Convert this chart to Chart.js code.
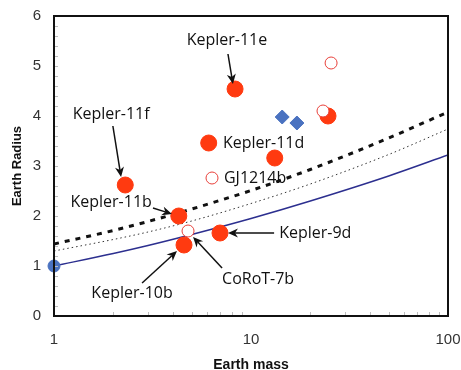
<!DOCTYPE html>
<html>
<head>
<meta charset="utf-8">
<script src="https://cdn.jsdelivr.net/npm/chart.js@4.4.1/dist/chart.umd.min.js"></script>
<style>
  html, body { margin: 0; padding: 0; background: #fff; }
  #wrap { width: 461px; height: 370px; position: relative; }
</style>
</head>
<body>
<div id="wrap"><canvas id="chart"></canvas></div>
<script>
// Planeten: massa (aarde = 1) en straal (aarde = 1)
const filledMass   = [2.3, 8.3, 6.1, 13.2, 4.3, 4.57, 6.96, 24.6];
const filledRadius = [2.62, 4.54, 3.46, 3.16, 2.0, 1.42, 1.66, 4.0];

const openMass   = [4.79, 6.34, 23.2, 25.5];
const openRadius = [1.70, 2.76, 4.1, 5.06];

const diamondMass   = [14.4, 17.1];
const diamondRadius = [3.98, 3.86];

const earthMass = [1];
const earthRadius = [1];

// modelcurves
const curveMass   = [1, 2, 3, 5, 10, 20, 50, 100];
const solidRadius = [1.0, 1.25, 1.41, 1.63, 1.95, 2.30, 2.80, 3.22];
const dashRadius  = [1.44, 1.71, 1.89, 2.14, 2.51, 2.93, 3.56, 4.08];
const dotRadius   = [1.30, 1.53, 1.68, 1.90, 2.25, 2.64, 3.23, 3.74];

const xTicks = [1, 10, 100];
const yTicks = [0, 1, 2, 3, 4, 5, 6];
const xMinor = [2, 3, 4, 5, 6, 7, 8, 9, 20, 30, 40, 50, 60, 70, 80, 90];

// labels met pijlen (in data-coordinaten)
const labels = [
    { text: 'Kepler-11e', x: 7.55, y: 5.52, align: 'center', arrow: [7.64, 5.24, 8.1, 4.64] },
    { text: 'Kepler-11f', x: 1.95, y: 4.04, align: 'center', arrow: [1.99, 3.80, 2.19, 2.78] },
    { text: 'Kepler-11d', x: 7.2, y: 3.46, align: 'left' },
    { text: 'GJ1214b', x: 7.29, y: 2.76, align: 'left' },
    { text: 'Kepler-11b', x: 1.95, y: 2.28, align: 'center', arrow: [3.18, 2.16, 3.97, 2.04] },
    { text: 'Kepler-9d', x: 13.9, y: 1.66, align: 'left', arrow: [13.1, 1.66, 7.64, 1.66] },
    { text: 'CoRoT-7b', x: 7.13, y: 0.74, align: 'left', arrow: [7.13, 0.96, 5.08, 1.58] },
    { text: 'Kepler-10b', x: 2.49, y: 0.46, align: 'center', arrow: [2.80, 0.66, 4.21, 1.30] }
];

const pts = (xs, ys) => xs.map((x, i) => ({ x: x, y: ys[i] }));

function drawArrow(ctx, x1, y1, x2, y2) {
    const ang = Math.atan2(y2 - y1, x2 - x1);
    const len = 10, w = 4.5;
    const c = Math.cos(ang), s = Math.sin(ang);
    ctx.beginPath();
    ctx.moveTo(x1, y1);
    ctx.lineTo(x2 - c * len * 0.7, y2 - s * len * 0.7);
    ctx.stroke();
    ctx.beginPath();
    ctx.moveTo(x2, y2);
    ctx.lineTo(x2 - c * len + s * w, y2 - s * len - c * w);
    ctx.lineTo(x2 - c * len * 0.7, y2 - s * len * 0.7);
    ctx.lineTo(x2 - c * len - s * w, y2 - s * len + c * w);
    ctx.closePath();
    ctx.fill();
}

const framePlugin = {
    id: 'frame',
    afterDraw(chart) {
        const ctx = chart.ctx;
        const sx = chart.scales.x, sy = chart.scales.y;
        const L = sx.getPixelForValue(1), R = sx.getPixelForValue(100);
        const T = sy.getPixelForValue(6), B = sy.getPixelForValue(0);
        ctx.save();
        ctx.setLineDash([]);
        // kleine streepjes binnen de rand
        ctx.strokeStyle = '#bdbdbd';
        ctx.lineWidth = 1;
        ctx.beginPath();
        for (let i = 1; i < 30; i++) {
            const y = Math.round(sy.getPixelForValue(i * 0.2)) + 0.5;
            ctx.moveTo(L, y);
            ctx.lineTo(L + 4, y);
        }
        xMinor.forEach(v => {
            const x = Math.round(sx.getPixelForValue(v)) + 0.5;
            ctx.moveTo(x, B);
            ctx.lineTo(x, B - 4);
        });
        ctx.stroke();
        // rand
        ctx.strokeStyle = '#111111';
        ctx.lineWidth = 2;
        ctx.beginPath();
        ctx.moveTo(L, T);
        ctx.lineTo(R, T);
        ctx.lineTo(R, B);
        ctx.lineTo(L, B);
        ctx.closePath();
        ctx.stroke();

        // labels en pijlen
        ctx.fillStyle = '#111111';
        ctx.lineWidth = 1.5;
        ctx.font = '16px "Open Sans", sans-serif';
        ctx.textBaseline = 'middle';
        labels.forEach(l => {
            ctx.textAlign = l.align;
            ctx.fillText(l.text, sx.getPixelForValue(l.x), sy.getPixelForValue(l.y));
            if (l.arrow) {
                drawArrow(ctx,
                    sx.getPixelForValue(l.arrow[0]), sy.getPixelForValue(l.arrow[1]),
                    sx.getPixelForValue(l.arrow[2]), sy.getPixelForValue(l.arrow[3]));
            }
        });
        ctx.restore();
    }
};

const red = '#ff3a10';
const blue = '#4a72c0';
const frameBorder = { display: true, color: '#111', width: 2 };

new Chart(document.getElementById('chart'), {
    type: 'scatter',
    data: {
        datasets: [
            { label: 'solid', type: 'line', data: pts(curveMass, solidRadius), borderColor: '#2c2f8f', borderWidth: 1.5, pointRadius: 0, cubicInterpolationMode: 'monotone', fill: false, order: 2 },
            { label: 'dash', type: 'line', data: pts(curveMass, dashRadius), borderColor: '#111', borderWidth: 3, borderDash: [5, 6], pointRadius: 0, cubicInterpolationMode: 'monotone', fill: false, order: 2 },
            { label: 'dot', type: 'line', data: pts(curveMass, dotRadius), borderColor: '#333', borderWidth: 1, borderDash: [1.5, 3], pointRadius: 0, cubicInterpolationMode: 'monotone', fill: false, order: 2 },
            { label: 'earth', data: pts(earthMass, earthRadius), backgroundColor: blue, borderColor: blue, pointRadius: 6, clip: false, order: 1 },
            { label: 'filled', data: pts(filledMass, filledRadius), backgroundColor: red, borderColor: red, pointRadius: 8, order: 1 },
            { label: 'open', data: pts(openMass, openRadius), backgroundColor: '#fff', borderColor: '#e8403a', borderWidth: 1, pointRadius: 6, order: 0 },
            { label: 'diamond', data: pts(diamondMass, diamondRadius), backgroundColor: blue, borderColor: blue, pointStyle: 'rectRot', pointRadius: 7, order: 1 }
        ]
    },
    options: {
        responsive: true,
        maintainAspectRatio: false,
        animation: false,
        layout: { padding: { top: 16, right: 13, left: 0, bottom: 0 } },
        plugins: { legend: { display: false }, tooltip: { enabled: false } },
        scales: {
            x: {
                type: 'logarithmic',
                min: 1,
                max: 100,
                grid: { display: false, drawTicks: false },
                border: frameBorder,
                afterBuildTicks: axis => { axis.ticks = xTicks.map(v => ({ value: v })); },
                afterFit: axis => { axis.height = 54; axis.paddingLeft = 0; axis.paddingRight = 0; },
                ticks: {
                    color: '#333',
                    padding: 15,
                    maxRotation: 0,
                    font: { family: 'Liberation Sans, Arial', size: 15 },
                    callback: v => String(v)
                },
                title: {
                    display: true,
                    text: 'Earth mass',
                    color: '#111',
                    padding: { top: 0, bottom: -4 },
                    font: { family: 'Liberation Sans, Arial', size: 14, weight: 'bold' }
                }
            },
            xTop: {
                type: 'logarithmic',
                position: 'top',
                min: 1,
                max: 100,
                grid: { display: false, drawTicks: false },
                border: frameBorder,
                ticks: { display: false },
                afterFit: axis => { axis.height = 0; axis.paddingLeft = 0; axis.paddingRight = 0; }
            },
            y: {
                min: 0,
                max: 6,
                grid: { display: false, drawTicks: false },
                border: frameBorder,
                afterBuildTicks: axis => { axis.ticks = yTicks.map(v => ({ value: v })); },
                afterFit: axis => { axis.width = 54; axis.paddingTop = 0; axis.paddingBottom = 0; },
                ticks: {
                    color: '#333',
                    padding: 13,
                    font: { family: 'Liberation Sans, Arial', size: 15 }
                },
                title: {
                    display: true,
                    text: 'Earth Radius',
                    color: '#111',
                    padding: { top: 10, bottom: 0 },
                    font: { family: 'Liberation Sans, Arial', size: 13, weight: 'bold' }
                }
            },
            yRight: {
                position: 'right',
                min: 0,
                max: 6,
                grid: { display: false, drawTicks: false },
                border: frameBorder,
                ticks: { display: false },
                afterFit: axis => { axis.width = 0; axis.paddingTop = 0; axis.paddingBottom = 0; }
            }
        }
    },
    plugins: [framePlugin]
});
</script>
</body>
</html>
